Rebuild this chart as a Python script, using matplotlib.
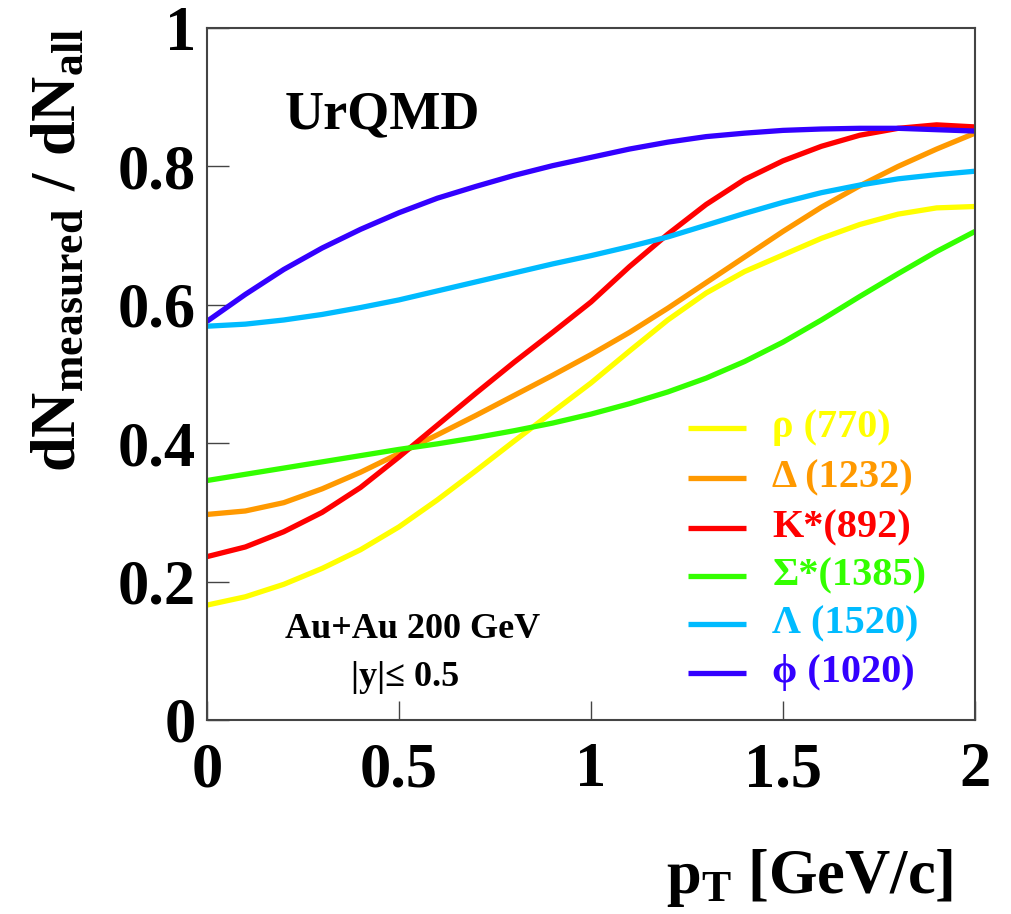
import matplotlib
matplotlib.use('Agg')
import matplotlib.pyplot as plt

plt.rcParams['font.family'] = ['Liberation Serif', 'DejaVu Serif']
plt.rcParams['font.weight'] = 'bold'
plt.rcParams['mathtext.fontset'] = 'custom'
plt.rcParams['mathtext.rm'] = 'Liberation Serif:bold'
plt.rcParams['mathtext.it'] = 'Liberation Serif:bold'
plt.rcParams['mathtext.bf'] = 'Liberation Serif:bold'

# pT values (GeV/c)
pt = [0.0, 0.1, 0.2, 0.3, 0.4, 0.5, 0.6, 0.7, 0.8, 0.9, 1.0,
      1.1, 1.2, 1.3, 1.4, 1.5, 1.6, 1.7, 1.8, 1.9, 2.0]

# ratio dN_measured / dN_all
rho = [0.166, 0.178, 0.196, 0.219, 0.246, 0.279, 0.318, 0.360, 0.403, 0.445, 0.487,
       0.533, 0.578, 0.617, 0.648, 0.672, 0.696, 0.716, 0.731, 0.740, 0.742]
delta = [0.297, 0.302, 0.314, 0.334, 0.358, 0.385, 0.412, 0.440, 0.469, 0.498, 0.528,
         0.560, 0.595, 0.632, 0.669, 0.706, 0.741, 0.772, 0.800, 0.825, 0.848]
kstar = [0.236, 0.250, 0.272, 0.300, 0.336, 0.380, 0.426, 0.472, 0.517, 0.560, 0.604,
         0.655, 0.702, 0.745, 0.781, 0.808, 0.829, 0.845, 0.855, 0.860, 0.857]
sigma = [0.346, 0.355, 0.364, 0.373, 0.382, 0.391, 0.399, 0.408, 0.418, 0.429, 0.442,
         0.457, 0.474, 0.494, 0.518, 0.546, 0.578, 0.612, 0.645, 0.677, 0.706]
lam = [0.569, 0.572, 0.578, 0.586, 0.596, 0.607, 0.620, 0.633, 0.646, 0.659, 0.671,
       0.684, 0.698, 0.715, 0.732, 0.748, 0.762, 0.773, 0.782, 0.788, 0.793]
phi = [0.576, 0.615, 0.651, 0.682, 0.709, 0.733, 0.754, 0.771, 0.787, 0.801, 0.813,
       0.825, 0.835, 0.843, 0.848, 0.852, 0.854, 0.855, 0.855, 0.853, 0.851]

labels = ['ρ (770)', 'Δ (1232)', 'K*(892)', 'Σ*(1385)', 'Λ (1520)', 'ϕ (1020)']
colors = ['#ffff00', '#ff9900', '#ff0000', '#33ff00', '#00bbff', '#3300ff']
series = [rho, delta, kstar, sigma, lam, phi]

xticks = [0, 0.5, 1, 1.5, 2]
xticklabels = ['0', '0.5', '1', '1.5', '2']
yticks = [0, 0.2, 0.4, 0.6, 0.8, 1]
yticklabels = ['0', '0.2', '0.4', '0.6', '0.8', '1']

fig = plt.figure(figsize=(10.11, 9.14), dpi=100)
ax = fig.add_axes([0.2047, 0.2123, 0.7597, 0.7571])

for ys, c in zip(series, colors):
    ax.plot(pt, ys, color=c, lw=3.8, solid_joinstyle='round', solid_capstyle='butt')

ax.set_xlim(0, 2)
ax.set_ylim(0, 1)
ax.set_xticks(xticks)
ax.set_xticklabels(xticklabels, fontsize=45, fontweight='bold')
ax.set_yticks(yticks)
ax.set_yticklabels(yticklabels, fontsize=45, fontweight='bold')
ax.tick_params(axis='x', direction='in', length=14, width=1.0, pad=16, color='#444444',
               top=False)
ax.tick_params(axis='y', direction='in', length=16, width=1.0, pad=8, color='#444444',
               right=False)
for s in ax.spines.values():
    s.set_linewidth(1.5)
    s.set_color('#444444')

# legend drawn by hand, ROOT style (axes fractions)
leg_y = [0.422, 0.350, 0.277, 0.208, 0.139, 0.068]
for lab, c, yy in zip(labels, colors, leg_y):
    ax.plot([0.626, 0.702], [yy, yy], color=c, lw=3.8, solid_capstyle='butt',
            transform=ax.transAxes)
    ax.text(0.736, yy, lab, color=c, fontsize=29, fontweight='bold', va='center', ha='left',
            transform=ax.transAxes)

ax.text(0.1016, 0.874, 'UrQMD', fontsize=39, fontweight='bold', va='center', ha='left',
        transform=ax.transAxes)
ax.text(0.268, 0.130, 'Au+Au 200 GeV', fontsize=26, fontweight='bold', va='center',
        ha='center', transform=ax.transAxes)
ax.text(0.258, 0.062, '|y|≤ 0.5', fontsize=26, fontweight='bold', va='center',
        ha='center', transform=ax.transAxes)

fig.text(953 / 1011, 1 - 893 / 914, r'$\mathrm{p_T}$ [GeV/c]', fontsize=45,
         fontweight='bold', ha='right', va='baseline')
fig.text(60 / 1011, 1 - 28 / 914, r'$\mathrm{dN_{measured}\ /\ dN_{all}}$', fontsize=45,
         rotation=90, ha='center', va='top')

fig.savefig('out.png', dpi=100)
